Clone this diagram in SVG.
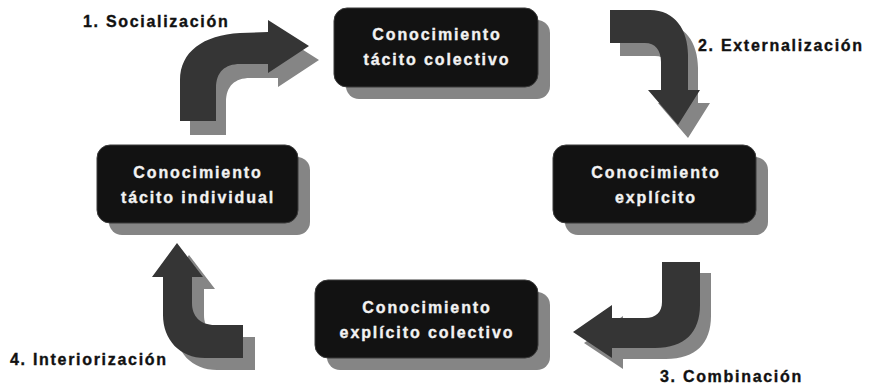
<svg xmlns="http://www.w3.org/2000/svg" xmlns:xlink="http://www.w3.org/1999/xlink" width="873" height="389" viewBox="0 0 873 389">
  <style>
    .box { fill: #121212; stroke: #3a3a3a; stroke-width: 1; }
    .shadow { fill: #858585; }
    .arrow { fill: #353535; }
    .btxt { font-family: "Liberation Sans", Arial, sans-serif; font-weight: bold; font-size: 16px; letter-spacing: 1.9px; fill: #f2f2f2; stroke: #f2f2f2; stroke-width: 0.35px; text-anchor: middle; }
    .lbl { font-family: "Liberation Sans", Arial, sans-serif; font-weight: bold; font-size: 16px; letter-spacing: 1.7px; fill: #111111; stroke: #111111; stroke-width: 0.35px; }
  </style>
  <defs>
    <path id="a1" d="M180,121 L180,80 C180,52 203,35 240,33 L268,32 L268,20 L309,46 L268,73 L268,64 L240,64 C225,64 216,72 216,88 L216,121 Z"/>
    <path id="a2" d="M610,10 L650,10 C675,10 688,30 688,55 L688,90 L700,90 L678,125 L648,90 L661,90 L661,62 C661,50 655,43 645,43 L610,43 Z"/>
    <path id="a3" d="M662,262 L700,262 L700,305 C700,332 685,348 655,348 L612,348 L612,358 L573,332 L612,305 L612,318 L645,318 C656,318 662,312 662,302 Z"/>
    <path id="a4" d="M177,243 L203,277 L192,277 L192,303 C192,316 200,325 215,325 L243,325 L243,358 L205,358 C180,358 163,340 163,315 L163,277 L152,277 Z"/>
  </defs>

  <g id="connectors">
    <g id="arrow-socializacion">
      <use xlink:href="#a1" href="#a1" class="shadow" transform="translate(10,14)"/>
      <use xlink:href="#a1" href="#a1" class="arrow"/>
      <text class="lbl" x="83" y="27">1. Socialización</text>
    </g>
    <g id="arrow-externalizacion">
      <use xlink:href="#a2" href="#a2" class="shadow" transform="translate(10,13)"/>
      <use xlink:href="#a2" href="#a2" class="arrow"/>
      <text class="lbl" x="698" y="51">2. Externalización</text>
    </g>
    <g id="arrow-combinacion">
      <use xlink:href="#a3" href="#a3" class="shadow" transform="translate(11,11)"/>
      <use xlink:href="#a3" href="#a3" class="arrow"/>
      <text class="lbl" x="660" y="382">3. Combinación</text>
    </g>
    <g id="arrow-interiorizacion">
      <use xlink:href="#a4" href="#a4" class="shadow" transform="translate(12,12)"/>
      <use xlink:href="#a4" href="#a4" class="arrow"/>
      <text class="lbl" x="10" y="365">4. Interiorización</text>
    </g>
  </g>

  <g id="node-tacito-colectivo">
    <rect class="shadow" x="346" y="20" width="204" height="79" rx="13"/>
    <rect class="box" x="334" y="8" width="204" height="79" rx="13"/>
    <text class="btxt" x="437" y="40">Conocimiento</text>
    <text class="btxt" x="437" y="65">tácito colectivo</text>
  </g>

  <g id="node-explicito">
    <rect class="shadow" x="565" y="157" width="203" height="78" rx="13"/>
    <rect class="box" x="553" y="145" width="203" height="78" rx="13"/>
    <text class="btxt" x="656" y="178">Conocimiento</text>
    <text class="btxt" x="656" y="203">explícito</text>
  </g>

  <g id="node-explicito-colectivo">
    <rect class="shadow" x="327" y="292" width="223" height="78" rx="13"/>
    <rect class="box" x="315" y="280" width="223" height="78" rx="13"/>
    <text class="btxt" x="427" y="313">Conocimiento</text>
    <text class="btxt" x="427" y="338">explícito colectivo</text>
  </g>

  <g id="node-tacito-individual">
    <rect class="shadow" x="109" y="157" width="201" height="78" rx="13"/>
    <rect class="box" x="97" y="145" width="201" height="78" rx="13"/>
    <text class="btxt" x="198" y="178">Conocimiento</text>
    <text class="btxt" x="198" y="203">tácito individual</text>
  </g>
</svg>
